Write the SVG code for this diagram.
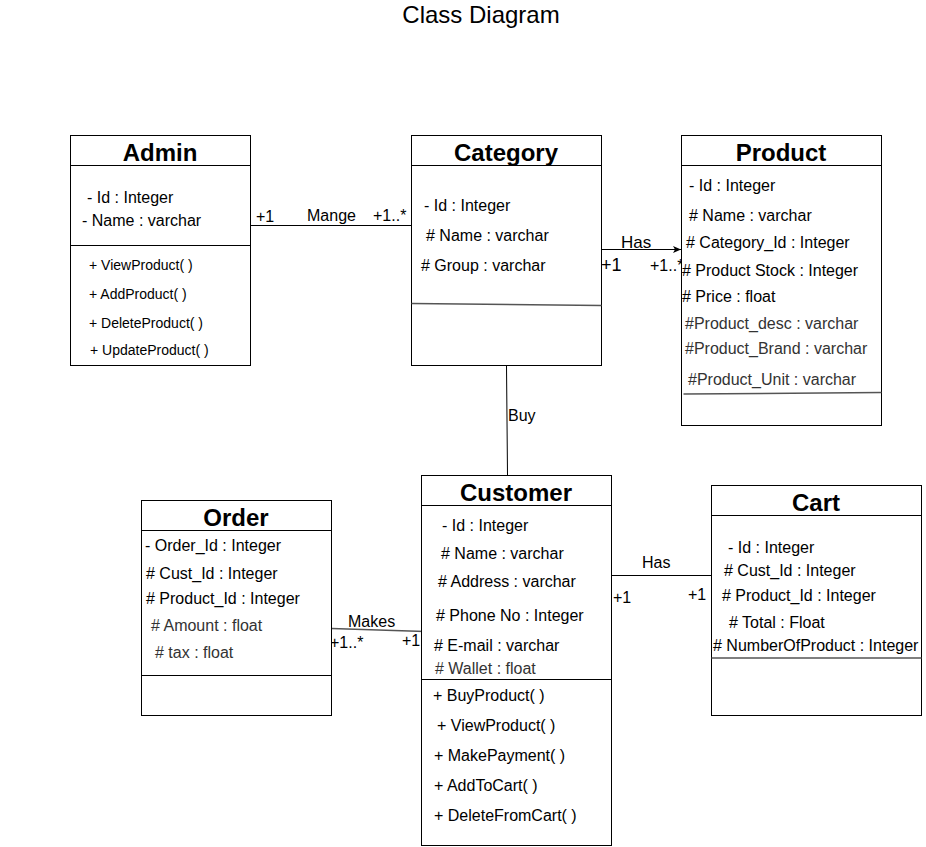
<svg xmlns="http://www.w3.org/2000/svg" width="926" height="847" viewBox="0 0 926 847">
<style>
text{font-family:"Liberation Sans",Arial,sans-serif;fill:#000}
.t{font-size:24px;font-weight:bold;text-anchor:middle}
.a{font-size:16px}
.g{fill:#333}
.m{font-size:14px}
.box{fill:#fff;stroke:#000;stroke-width:1}
.ln{stroke:#000;stroke-width:1;fill:none}
.gl{stroke:#555;stroke-width:1.5;fill:none}
</style>
<defs>
<marker id="arr" markerWidth="10" markerHeight="10" refX="9" refY="5" orient="auto" markerUnits="userSpaceOnUse">
<path d="M1,1.5 L9,5 L1,8.5 L3,5 Z" fill="#000"/>
</marker>
</defs>
<rect width="926" height="847" fill="#fff"/>
<text x="481" y="23" style="font-size:24px;text-anchor:middle">Class Diagram</text>

<g id="connectors">
<line class="ln" x1="250.5" y1="225.5" x2="411.5" y2="225.5"/>
<text class="a" x="256" y="222">+1</text>
<text class="a" x="307" y="221">Mange</text>
<text class="a" x="373" y="221">+1..*</text>
<line class="ln" x1="601.5" y1="249.5" x2="681" y2="249.5" marker-end="url(#arr)"/>
<text x="621" y="248" style="font-size:17px">Has</text>
<text x="601" y="271" style="font-size:18px">+1</text>
<text class="a" x="650" y="271">+1..*</text>
<line class="ln" x1="506.5" y1="365.5" x2="507.5" y2="475.5"/>
<text class="a" x="508" y="421">Buy</text>
<line class="ln" x1="611.5" y1="575.5" x2="711.5" y2="575.5"/>
<text class="a" x="642" y="568">Has</text>
<text class="a" x="613" y="603">+1</text>
<text class="a" x="688" y="600">+1</text>
<line class="gl" x1="331.5" y1="628.5" x2="425" y2="631.5"/>
<text class="a" x="348" y="627">Makes</text>
<text class="a" x="330" y="648">+1..*</text>
<text class="a" x="402" y="646">+1</text>
</g>

<g id="admin">
<rect class="box" x="70.5" y="135.5" width="180" height="230"/>
<line class="ln" x1="70.5" y1="165.5" x2="250.5" y2="165.5"/>
<line class="ln" x1="70.5" y1="245.5" x2="250.5" y2="245.5"/>
<text class="t" x="160" y="161">Admin</text>
<text class="a" x="87" y="203">- Id : Integer</text>
<text class="a" x="82" y="226">- Name : varchar</text>
<text class="m" x="89" y="270">+ ViewProduct( )</text>
<text class="m" x="89" y="299">+ AddProduct( )</text>
<text class="m" x="89" y="328">+ DeleteProduct( )</text>
<text class="m" x="90" y="355">+ UpdateProduct( )</text>
</g>

<g id="category">
<rect class="box" x="411.5" y="135.5" width="190" height="230"/>
<line class="ln" x1="411.5" y1="165.5" x2="601.5" y2="165.5"/>
<line class="gl" x1="411.5" y1="303.5" x2="601.5" y2="305.5"/>
<text class="t" x="506" y="161">Category</text>
<text class="a" x="424" y="211">- Id : Integer</text>
<text class="a" x="426" y="241"># Name : varchar</text>
<text class="a" x="421" y="271"># Group : varchar</text>
</g>

<g id="product">
<rect class="box" x="681.5" y="135.5" width="200" height="290"/>
<line class="ln" x1="681.5" y1="165.5" x2="881.5" y2="165.5"/>
<line class="gl" x1="683.5" y1="394" x2="881.5" y2="392.5"/>
<text class="t" x="781" y="161">Product</text>
<text class="a" x="689" y="191">- Id : Integer</text>
<text class="a" x="689" y="221"># Name : varchar</text>
<text class="a" x="686" y="248"># Category_Id : Integer</text>
<text class="a" x="682" y="276"># Product Stock : Integer</text>
<text class="a" x="682" y="302"># Price : float</text>
<text class="a g" x="685" y="329">#Product_desc : varchar</text>
<text class="a g" x="685" y="354">#Product_Brand : varchar</text>
<text class="a g" x="688" y="385">#Product_Unit : varchar</text>
</g>

<g id="customer">
<rect class="box" x="421.5" y="475.5" width="190" height="370"/>
<line class="ln" x1="421.5" y1="505.5" x2="611.5" y2="505.5"/>
<line class="ln" x1="421.5" y1="679.5" x2="611.5" y2="679.5"/>
<text class="t" x="516" y="501">Customer</text>
<text class="a" x="442" y="531">- Id : Integer</text>
<text class="a" x="441" y="559"># Name : varchar</text>
<text class="a" x="438" y="587"># Address : varchar</text>
<text class="a" x="436" y="621"># Phone No : Integer</text>
<text class="a" x="434" y="651"># E-mail : varchar</text>
<text class="a g" x="435" y="674"># Wallet : float</text>
<text class="a" x="433" y="701">+ BuyProduct( )</text>
<text class="a" x="437" y="731">+ ViewProduct( )</text>
<text class="a" x="434" y="761">+ MakePayment( )</text>
<text class="a" x="434" y="791">+ AddToCart( )</text>
<text class="a" x="434" y="821">+ DeleteFromCart( )</text>
</g>

<g id="cart">
<rect class="box" x="711.5" y="485.5" width="210" height="230"/>
<line class="ln" x1="711.5" y1="515.5" x2="921.5" y2="515.5"/>
<line class="gl" x1="711.5" y1="658" x2="921.5" y2="658"/>
<text class="t" x="816" y="511">Cart</text>
<text class="a" x="728" y="553">- Id : Integer</text>
<text class="a" x="724" y="576"># Cust_Id : Integer</text>
<text class="a" x="722" y="601"># Product_Id : Integer</text>
<text class="a" x="729" y="628"># Total : Float</text>
<text class="a" x="713" y="651"># NumberOfProduct : Integer</text>
</g>

<g id="order">
<rect class="box" x="141.5" y="500.5" width="190" height="215"/>
<line class="ln" x1="141.5" y1="530.5" x2="331.5" y2="530.5"/>
<line class="ln" x1="141.5" y1="675.5" x2="331.5" y2="675.5"/>
<text class="t" x="236" y="526">Order</text>
<text class="a" x="145" y="551">- Order_Id : Integer</text>
<text class="a" x="146" y="579"># Cust_Id : Integer</text>
<text class="a" x="146" y="604"># Product_Id : Integer</text>
<text class="a g" x="151" y="631"># Amount : float</text>
<text class="a g" x="155" y="658"># tax : float</text>
</g>
</svg>
